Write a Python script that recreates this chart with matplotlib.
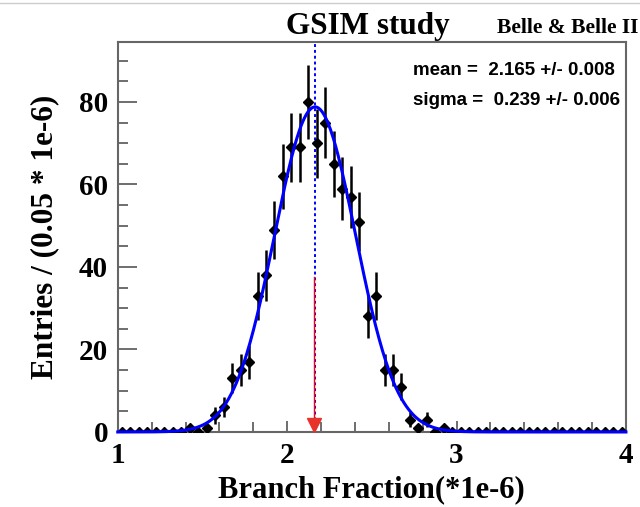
import numpy as np
import matplotlib
matplotlib.use("Agg")
import matplotlib.pyplot as plt
from matplotlib.lines import Line2D
from matplotlib.ticker import MultipleLocator

# histogram: 60 bins of 0.05 from 1 to 4
x_lo, x_hi, bin_w = 1.0, 4.0, 0.05
counts = [0] * 8 + [1, 0, 1, 4, 6, 13, 15, 17, 33, 38, 49, 62, 69, 69, 80, 70,
                    75, 65, 59, 57, 51, 28, 33, 15, 15, 11, 3, 1, 3, 0, 1] + [0] * 21
fit_mean, fit_mean_err = 2.165, 0.008
fit_sigma, fit_sigma_err = 0.239, 0.006
true_value = 2.16
arrow_top = 37.5

counts = np.array(counts, dtype=float)
centers = x_lo + bin_w / 2 + bin_w * np.arange(len(counts))
errs = np.sqrt(counts)

serif = "Liberation Serif"
sans = "Liberation Sans"

fig = plt.figure(figsize=(6.4, 5.07), dpi=100)
ax = fig.add_axes([0.184, 0.148, 0.794, 0.769])

ax.errorbar(centers, counts, yerr=errs, fmt="D", color="black", ms=5,
            elinewidth=1.8, capsize=0, zorder=3)

# gaussian fit curve
xx = np.linspace(x_lo, x_hi, 600)
norm = counts.sum() * bin_w / (fit_sigma * np.sqrt(2 * np.pi))
ax.plot(xx, norm * np.exp(-0.5 * ((xx - fit_mean) / fit_sigma) ** 2),
        color="#0000ff", lw=2.2, zorder=4, clip_on=False)

ax.axvline(fit_mean, color="#0000ff", ls=(0, (1.5, 1.5)), lw=1.4, zorder=2)
ax.plot([true_value, true_value], [0, arrow_top], color="red", lw=1, zorder=5)
ax.plot(true_value, 1.6, marker="v", color="#e8332a", ms=10, zorder=6, clip_on=False)

ax.set_xlim(x_lo, x_hi)
ax.set_ylim(0, 94.5)
ax.xaxis.set_major_locator(MultipleLocator(1))
ax.xaxis.set_minor_locator(MultipleLocator(0.2))
ax.yaxis.set_major_locator(MultipleLocator(20))
ax.yaxis.set_minor_locator(MultipleLocator(5))
ax.tick_params(which="both", direction="in", color="#555555", width=1.2)
ax.tick_params(which="major", length=14, pad=7)
ax.tick_params(which="minor", length=7)
ax.tick_params(axis="x", which="major", length=8)
for lab in ax.get_xticklabels() + ax.get_yticklabels():
    lab.set_fontfamily(serif)
    lab.set_fontweight("bold")
    lab.set_fontsize(21)
for s in ax.spines.values():
    s.set_color("#666666")
    s.set_linewidth(1.5)

ax.set_xlabel("Branch Fraction(*1e-6)", fontfamily=serif, fontweight="bold",
              fontsize=22, labelpad=5)
ax.set_ylabel("Entries / (0.05 * 1e-6)", fontfamily=serif, fontweight="bold",
              fontsize=22.5, labelpad=14)

fig.text(0.575, 0.948, "GSIM study", fontfamily=serif, fontweight="bold",
         fontsize=22.5, ha="center", va="center")
fig.text(0.777, 0.945, "Belle & Belle II", fontfamily=serif, fontweight="bold",
         fontsize=15.5, ha="left", va="center")
fig.text(0.645, 0.860, "mean =  %.3f +/- %.3f" % (fit_mean, fit_mean_err),
         fontfamily=sans, fontweight="bold", fontsize=13.5, va="center")
fig.text(0.645, 0.802, "sigma =  %.3f +/- %.3f" % (fit_sigma, fit_sigma_err),
         fontfamily=sans, fontweight="bold", fontsize=13.5, va="center")

fig.add_artist(Line2D([0, 1], [0.995, 0.995], color="#cccccc", lw=1))

fig.savefig("out.png", dpi=100)
